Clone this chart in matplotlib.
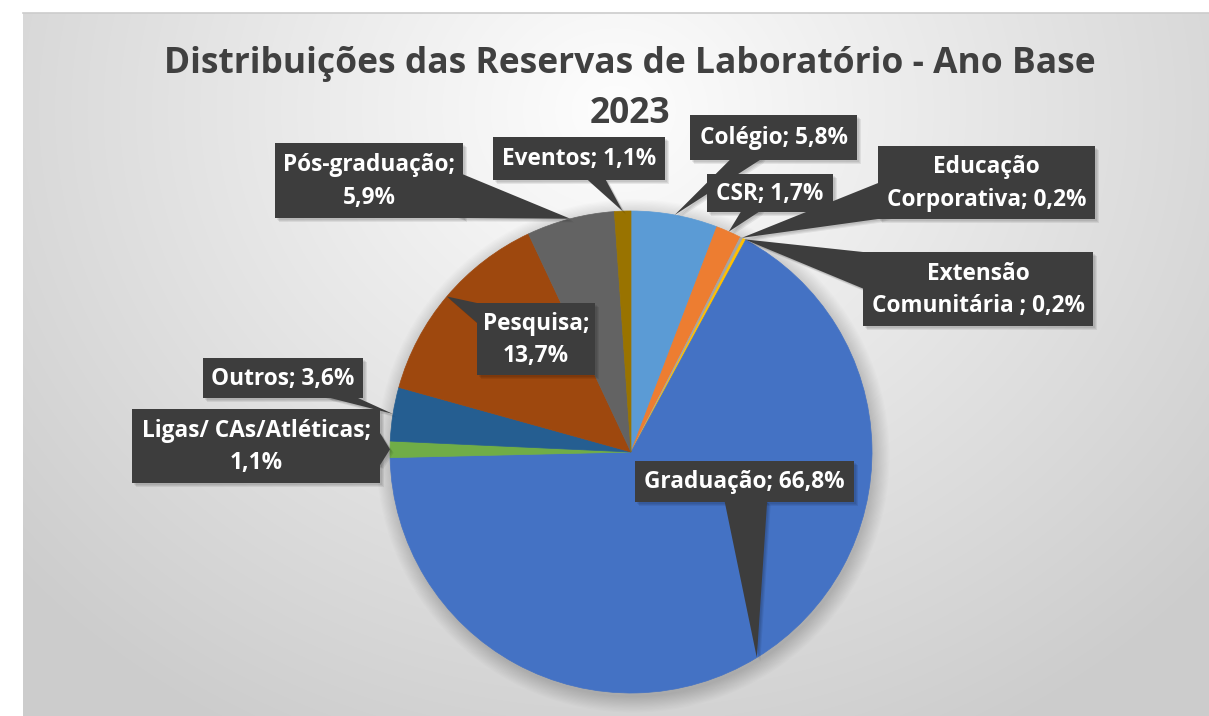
import numpy as np
import matplotlib
matplotlib.use("Agg")
import matplotlib.pyplot as plt
from matplotlib.patches import Polygon, Rectangle, Circle

# dados das reservas (ordem do Excel, sentido horário a partir do topo)
nomes = ["Colégio", "CSR", "Educação\nCorporativa", "Extensão\nComunitária ",
         "Graduação", "Ligas/ CAs/Atléticas", "Outros", "Pesquisa",
         "Pós-graduação", "Eventos"]
percentuais = [5.8, 1.7, 0.2, 0.2, 66.8, 1.1, 3.6, 13.7, 5.9, 1.1]
separadores = [" ", " ", " ", " ", " ", "\n", " ", "\n", "\n", " "]
cores = ["#5B9BD5", "#ED7D31", "#A5A5A5", "#FFC000", "#4472C4",
         "#70AD47", "#255E91", "#9E480E", "#636363", "#997300"]

titulo = ["Distribuições das Reservas de Laboratório - Ano Base", "2023"]

# caixas dos rótulos em pixels (x0, y0, x1, y1)
caixas = [(690, 115, 857, 160), (707, 174, 833, 212), (878, 146, 1095, 219),
          (863, 252, 1093, 326), (635, 461, 854, 502), (132, 409, 380, 483),
          (203, 358, 363, 398), (477, 303, 595, 375), (275, 143, 463, 218),
          (493, 137, 665, 180)]

W, H = 1209, 716
fig = plt.figure(figsize=(W / 100, H / 100), dpi=100)
ax = fig.add_axes([0, 0, 1, 1])

# fundo com gradiente radial
x0, y0 = 23, 13
xx, yy = np.meshgrid(np.arange(x0, W), np.arange(y0, H))
d = np.sqrt(((xx - 615) / 720.0) ** 2 + ((yy - 110) / 640.0) ** 2)
g = np.clip(0.995 - 0.175 * d, 0.8, 1.0)
ax.imshow(np.dstack([g, g, g]), extent=(x0, W, H, y0), origin="upper",
          interpolation="bilinear", zorder=0)
ax.plot([x0, W], [y0, y0], color="#cccccc", lw=1.2, zorder=1)

cx, cy, r = 631, 452, 241

# sombra suave da pizza
for i in range(14):
    ax.add_patch(Circle((cx + 2, cy + 4), r + 1.2 * i, color="black",
                        alpha=0.013, lw=0, zorder=1))

# eixo y invertido: startangle=-90 e anti-horário nos dados = horário no topo
wedges, _ = ax.pie(percentuais, colors=cores, startangle=-90, counterclock=True,
                   center=(cx, cy), radius=r, frame=True)
for w, cor in zip(wedges, cores):
    w.set_zorder(2)
    w.set_edgecolor(cor)
    w.set_linewidth(0.5)


def fmt(v):
    return f"{v:.1f}".replace(".", ",") + "%"


for w, nome, sep, val, caixa in zip(wedges, nomes, separadores, percentuais, caixas):
    bx0, by0, bx1, by1 = caixa
    ang = np.deg2rad((w.theta1 + w.theta2) / 2)
    tip = np.array([cx + r * np.cos(ang), cy + r * np.sin(ang)])
    c = np.array([(bx0 + bx1) / 2, (by0 + by1) / 2])
    v = tip - c
    # ponto de saída da linha centro->ponta na borda da caixa
    tx = (bx1 - c[0]) / abs(v[0]) if v[0] != 0 else np.inf
    ty = (by1 - c[1]) / abs(v[1]) if v[1] != 0 else np.inf
    hw = np.clip(0.12 * np.hypot(*v), 9, 24)
    if tx < ty:
        p = c + v * tx
        base = [(p[0], np.clip(p[1] - hw, by0, by1)),
                (p[0], np.clip(p[1] + hw, by0, by1))]
    else:
        p = c + v * ty
        base = [(np.clip(p[0] - hw, bx0, bx1), p[1]),
                (np.clip(p[0] + hw, bx0, bx1), p[1])]
    pts = [base[0], tuple(tip), base[1], tuple(c)]
    # sombra
    for k in range(3):
        off = 1.5 + k
        ax.add_patch(Polygon([(a + off, b + off) for a, b in pts], closed=True,
                             color="black", alpha=0.07, lw=0, zorder=3))
        ax.add_patch(Rectangle((bx0 + off, by0 + off), bx1 - bx0, by1 - by0,
                               color="black", alpha=0.07, lw=0, zorder=3))
    ax.add_patch(Polygon(pts, closed=True, color="#3d3d3d", lw=0, zorder=4))
    ax.add_patch(Rectangle((bx0, by0), bx1 - bx0, by1 - by0,
                           color="#3d3d3d", lw=0, zorder=4))
    ax.text(c[0], c[1] + 1, f"{nome};{sep}{fmt(val)}",
            ha="center", va="center", color="white", fontsize=16.3,
            fontfamily="Open Sans", fontweight="bold", linespacing=1.45, zorder=5)

# título em duas linhas, como quebrado no Excel
for linha, ty_ in zip(titulo, [64, 114]):
    ax.text(630, ty_, linha, ha="center", va="center", color="#404040",
            fontsize=25.5, fontfamily="Open Sans", fontweight="bold", zorder=5)

ax.set_xlim(0, W)
ax.set_ylim(H, 0)
ax.set_aspect("auto")
ax.axis("off")

fig.savefig("out.png", dpi=100, facecolor="white")
